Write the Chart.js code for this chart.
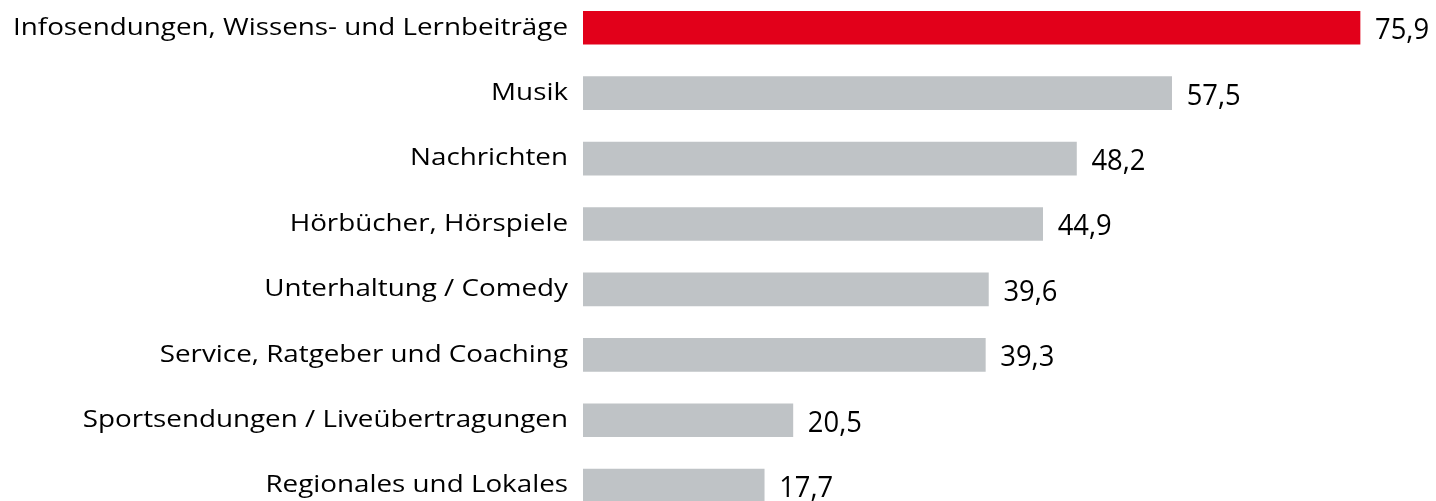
<!DOCTYPE html>
<html><head><meta charset="utf-8">
<script src="https://cdn.jsdelivr.net/npm/chart.js@4"></script>
<style>
html,body{margin:0;padding:0;background:#fff;overflow:hidden}
#wrap{position:relative;width:1436px;height:501px;overflow:hidden}
#box{position:absolute;left:0;top:-5.2px;width:1436px;height:523.4px}
</style></head><body>
<div id="wrap"><div id="box"><canvas id="c"></canvas></div></div>
<script>
const categories = ["Infosendungen, Wissens- und Lernbeiträge","Musik","Nachrichten","Hörbücher, Hörspiele","Unterhaltung / Comedy","Service, Ratgeber und Coaching","Sportsendungen / Liveübertragungen","Regionales und Lokales"];
const values = [75.9,57.5,48.2,44.9,39.6,39.3,20.5,17.7];
const barColors = ["#E2001A","#BFC3C6","#BFC3C6","#BFC3C6","#BFC3C6","#BFC3C6","#BFC3C6","#BFC3C6"];
const FONT = "'Open Sans', sans-serif";
const LABEL_FS = 24;
const VALUE_FS = 29;

const textPlugin = {
  id:'textPlugin',
  afterDatasetsDraw(chart){
    const ctx = chart.ctx;
    const meta = chart.getDatasetMeta(0);
    const left = chart.chartArea.left;
    ctx.save();
    ctx.fillStyle = "#000";
    ctx.textBaseline = "alphabetic";
    // category labels (right aligned, horizontally fitted)
    ctx.font = LABEL_FS + "px " + FONT;
    const sxL = 555 / ctx.measureText(categories[0]).width;
    ctx.textAlign = "right";
    meta.data.forEach((bar,i)=>{
      ctx.save();
      ctx.translate(left - 15, bar.y + 6.8);
      ctx.scale(sxL,1);
      ctx.fillText(categories[i], 0, 0);
      ctx.restore();
    });
    // value labels
    ctx.font = VALUE_FS + "px " + FONT;
    const sxV = 54 / ctx.measureText("57,5").width;
    ctx.textAlign = "left";
    meta.data.forEach((bar,i)=>{
      ctx.save();
      ctx.translate(bar.x + 15, bar.y + 11.5);
      ctx.scale(sxV,1);
      ctx.fillText(values[i].toFixed(1).replace('.',','), 0, 0);
      ctx.restore();
    });
    ctx.restore();
  }
};

new Chart(document.getElementById('c'),{
  type:'bar',
  data:{labels:categories,datasets:[{data:values,backgroundColor:barColors,borderWidth:0,barThickness:33}]},
  options:{
    indexAxis:'y',
    responsive:true,maintainAspectRatio:false,animation:false,
    layout:{padding:{left:0,right:34,top:0,bottom:0}},
    plugins:{legend:{display:false},tooltip:{enabled:false}},
    scales:{
      x:{min:0,max:80,display:false},
      y:{
        grid:{display:false,drawTicks:false},border:{display:false},
        ticks:{display:false},
        afterFit(s){s.width=583;}
      }
    }
  },
  plugins:[textPlugin]
});
</script>
</body></html>
